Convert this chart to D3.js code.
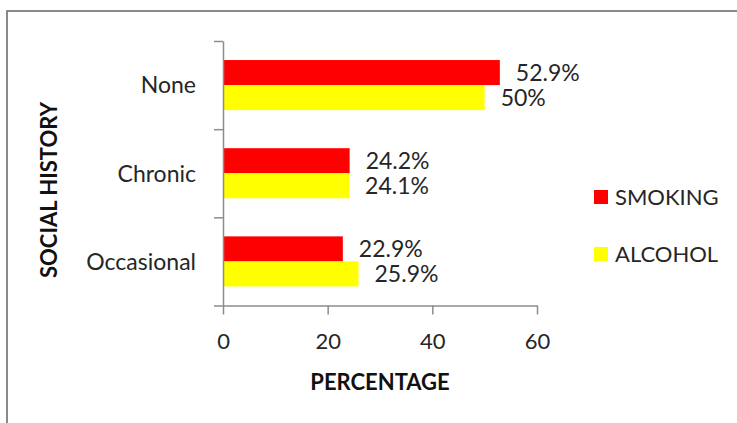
<!DOCTYPE html>
<html>
<head>
<meta charset="utf-8">
<script src="https://cdn.jsdelivr.net/npm/d3@7"></script>
<style>
  html, body { margin: 0; padding: 0; background: #fff; }
  svg { display: block; }
  text { font-family: Lato, "Open Sans", sans-serif; fill: #262626; }
</style>
</head>
<body>
<svg id="chart" width="737" height="423"></svg>
<script>
// Social history categories and the share of each habit (%)
const categories = ["None", "Chronic", "Occasional"];
const seriesNames = ["SMOKING", "ALCOHOL"];
const smoking = [52.9, 24.2, 22.9];
const alcohol = [50, 24.1, 25.9];
const xTicks = [0, 20, 40, 60];
const colors = ["#ff0000", "#ffff00"];

const seriesValues = [smoking, alcohol];
const rows = categories.map((c, i) => ({
  category: c,
  values: seriesNames.map((s, j) => ({ series: s, value: seriesValues[j][i] }))
}));

const svg = d3.select("#chart");
const axisColor = "#8c8c8c";

// frame around the chart area
svg.append("path")
  .attr("d", "M7,423 V11 H737")
  .attr("fill", "none")
  .attr("stroke", "#8a8a8a")
  .attr("stroke-width", 2);

const plotLeft = 223, plotRight = 537, plotTop = 41, plotBottom = 305.5;

const x = d3.scaleLinear().domain([0, 60]).range([plotLeft, plotRight]);
const y = d3.scaleBand().domain(categories).range([plotTop, plotBottom]);
const inner = d3.scaleBand().domain(seriesNames)
  .range([0, y.bandwidth()]).paddingOuter(0.76);

// bars
const groups = svg.append("g").selectAll("g")
  .data(rows).join("g")
  .attr("transform", d => `translate(0,${y(d.category)})`);

groups.selectAll("rect")
  .data(d => d.values).join("rect")
  .attr("x", x(0))
  .attr("y", d => inner(d.series))
  .attr("width", d => x(d.value) - x(0))
  .attr("height", inner.bandwidth())
  .attr("fill", (d, i) => colors[i]);

// value labels
groups.selectAll("text.val")
  .data(d => d.values).join("text")
  .attr("class", "val")
  .attr("x", d => x(d.value) + 16)
  .attr("y", d => inner(d.series) + inner.bandwidth() / 2)
  .attr("dy", "0.36em")
  .style("font-size", "23px")
  .text(d => d.value + "%");

// category axis: ticks fall on the band boundaries
const yEdges = d3.scaleLinear().domain([0, categories.length]).range([plotBottom, plotTop]);
const yAxis = svg.append("g")
  .attr("transform", `translate(${plotLeft},0)`)
  .call(d3.axisLeft(yEdges).tickValues(d3.range(categories.length + 1))
    .tickSize(9).tickSizeOuter(0).tickFormat(""));
yAxis.selectAll("path, line").attr("stroke", axisColor).attr("stroke-width", 1.5);

svg.append("g").selectAll("text")
  .data(categories).join("text")
  .attr("x", 196)
  .attr("y", d => y(d) + y.bandwidth() / 2)
  .attr("dy", "0.36em")
  .attr("text-anchor", "end")
  .style("font-size", "23px")
  .text(d => d);

// value axis
const xAxis = svg.append("g")
  .attr("transform", `translate(0,${plotBottom})`)
  .call(d3.axisBottom(x).tickValues(xTicks).tickSize(9).tickSizeOuter(0).tickPadding(19));
xAxis.select(".domain").attr("stroke", axisColor).attr("stroke-width", 1.5);
xAxis.selectAll("line").attr("stroke", axisColor).attr("stroke-width", 1.5);
xAxis.selectAll("text")
  .style("font-size", "22px")
  .style("font-family", "Lato, sans-serif")
  .attr("fill", "#262626");

// axis titles
svg.append("text")
  .attr("x", 380).attr("y", 390)
  .attr("text-anchor", "middle")
  .style("font-size", "22px").style("font-weight", "bold")
  .style("fill", "#111")
  .text("PERCENTAGE");

svg.append("text")
  .attr("transform", "translate(57,190) rotate(-90)")
  .attr("text-anchor", "middle")
  .style("font-size", "22px").style("font-weight", "bold")
  .style("fill", "#111")
  .text("SOCIAL HISTORY");

// legend
const legend = svg.append("g").selectAll("g")
  .data(seriesNames).join("g")
  .attr("transform", (d, i) => `translate(594,${190 + i * 57})`);
legend.append("rect")
  .attr("width", 14).attr("height", 14)
  .attr("fill", (d, i) => colors[i]);
legend.append("text")
  .attr("x", 21).attr("y", 7).attr("dy", "0.36em")
  .style("font-size", "22px")
  .text(d => d);
</script>
</body>
</html>
